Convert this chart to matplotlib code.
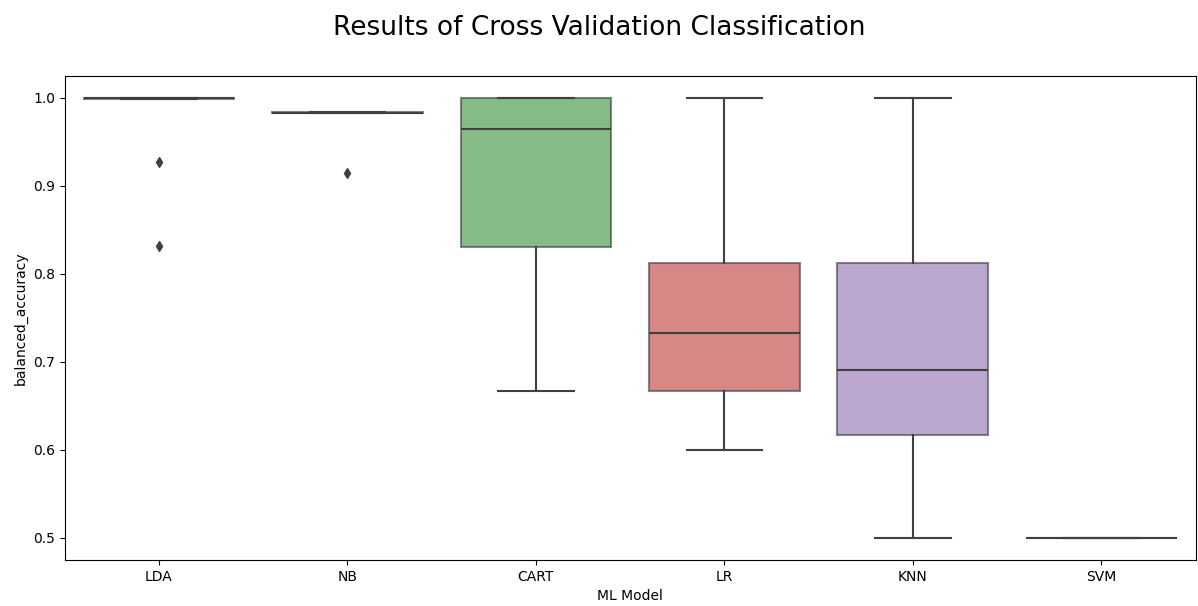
import matplotlib
matplotlib.use("Agg")
import matplotlib.pyplot as plt
import seaborn as sns

# cross-validation summary per model (balanced accuracy)
models = ["LDA", "NB", "CART", "LR", "KNN", "SVM"]
q1 = [0.999, 0.983, 0.831, 0.667, 0.617, 0.500]
medians = [1.000, 0.983, 0.965, 0.733, 0.691, 0.500]
q3 = [1.000, 0.984, 1.000, 0.8125, 0.8125, 0.500]
whis_lo = [0.999, 0.983, 0.667, 0.600, 0.500, 0.500]
whis_hi = [1.000, 0.984, 1.000, 1.000, 1.000, 0.500]
outliers = [[0.927, 0.832], [0.915], [], [], [], []]

stats = []
for i, name in enumerate(models):
    stats.append(dict(label=name, q1=q1[i], med=medians[i], q3=q3[i],
                      whislo=whis_lo[i], whishi=whis_hi[i], fliers=outliers[i]))

pal = [sns.desaturate(c, 0.75) for c in sns.color_palette("tab10", len(models))]
gray = "#404040"

fig, ax = plt.subplots(figsize=(11.98, 6.06), dpi=100)
fig.subplots_adjust(left=0.054, right=0.998, top=0.875, bottom=0.076)

bp = ax.bxp(stats, positions=range(len(models)), widths=0.8, patch_artist=True,
            boxprops=dict(edgecolor=gray, linewidth=1.5),
            whiskerprops=dict(color=gray, linewidth=1.5),
            capprops=dict(color=gray, linewidth=1.5),
            medianprops=dict(color=gray, linewidth=1.5),
            flierprops=dict(marker="d", markerfacecolor=gray, markeredgecolor=gray,
                            markersize=5, linestyle="none"))
for patch, col in zip(bp["boxes"], pal):
    patch.set_facecolor(col)
    patch.set_alpha(0.62)

ax.set_xlim(-0.5, len(models) - 0.5)
ax.set_ylim(0.475, 1.025)
ax.set_xticks(range(len(models)))
ax.set_xticklabels(models)
ax.set_xlabel("ML Model")
ax.set_ylabel("balanced_accuracy")
fig.suptitle("Results of Cross Validation Classification", fontsize=19, y=0.975)

fig.savefig("out.png", dpi=100)
